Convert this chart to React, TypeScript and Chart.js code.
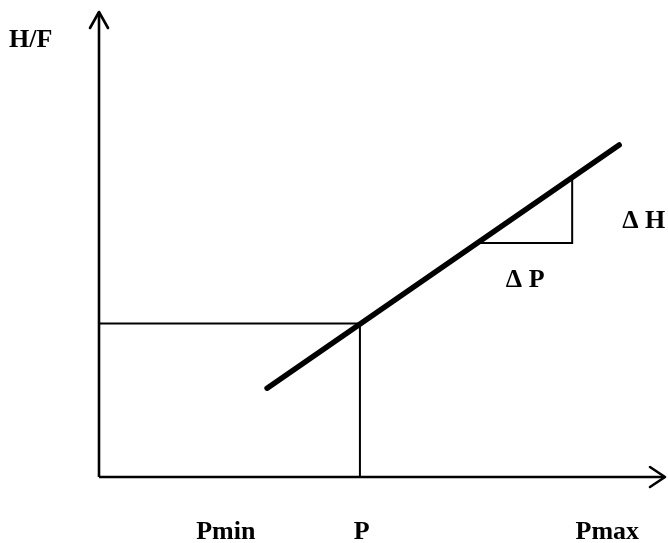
import React, { useEffect, useRef } from "react";
import { Chart, registerables } from "chart.js";

Chart.register(...registerables);

// Axis ranges (abstract units)
const pAxisRange = [0, 10];
const hfAxisRange = [0, 10];

// Characteristic line H/F vs P
const lineP = [2.97, 9.19];
const lineHF = [1.91, 7.14];

// Operating point
const operatingP = 4.61;
const operatingHF = 3.3;

// Slope triangle
const deltaP = [6.7, 8.36];
const deltaH = [5.03, 6.42];

// Tick labels on the P axis
const tickLabels = ["Pmin", "P", "Pmax"];
const tickValues = [2.24, 4.64, 8.98];

const yAxisTitle = "H/F";
const deltaHLabel = "\u0394 H";
const deltaPLabel = "\u0394 P";

const FONT = 'bold 26px "Liberation Serif", "Times New Roman", serif';

const decorations = {
  id: "decorations",
  afterDatasetsDraw(chart: any) {
    const { ctx, scales, chartArea } = chart;
    const xs = scales.x;
    const ys = scales.y;
    const x0 = xs.getPixelForValue(pAxisRange[0]);
    const x1 = xs.getPixelForValue(pAxisRange[1]);
    const y0 = ys.getPixelForValue(hfAxisRange[0]);
    const y1 = ys.getPixelForValue(hfAxisRange[1]);
    ctx.save();
    ctx.strokeStyle = "#000";
    ctx.lineWidth = 2.6;
    ctx.lineCap = "round";
    ctx.lineJoin = "round";
    // x arrow head
    ctx.beginPath();
    ctx.moveTo(x1 - 15, y0 - 10);
    ctx.lineTo(x1, y0);
    ctx.lineTo(x1 - 15, y0 + 10);
    ctx.stroke();
    // y arrow head
    ctx.beginPath();
    ctx.moveTo(x0 - 9, y1 + 16);
    ctx.lineTo(x0, y1);
    ctx.lineTo(x0 + 9, y1 + 16);
    ctx.stroke();

    ctx.fillStyle = "#000";
    ctx.font = FONT;
    ctx.textBaseline = "alphabetic";
    // y axis title
    ctx.textAlign = "left";
    ctx.fillText(yAxisTitle, chartArea.left - 90, chartArea.top + 35);
    // tick labels
    ctx.textAlign = "center";
    tickLabels.forEach((t, i) => {
      ctx.fillText(t, xs.getPixelForValue(tickValues[i]), chartArea.bottom + 62);
    });
    // delta labels
    const tx = xs.getPixelForValue(deltaP[1]);
    const tyMid = (ys.getPixelForValue(deltaH[0]) + ys.getPixelForValue(deltaH[1])) / 2;
    ctx.textAlign = "left";
    ctx.fillText(deltaHLabel, tx + 50, tyMid + 17);
    const pxMid = (xs.getPixelForValue(deltaP[0]) + xs.getPixelForValue(deltaP[1])) / 2;
    ctx.textAlign = "center";
    ctx.fillText(deltaPLabel, pxMid, ys.getPixelForValue(deltaH[0]) + 44);
    ctx.restore();
  },
};

export default function App() {
  const ref = useRef<HTMLCanvasElement | null>(null);
  useEffect(() => {
    if (!ref.current) return;
    const base = {
      borderColor: "#000",
      pointRadius: 0,
      showLine: true,
      fill: false,
      clip: false as any,
      tension: 0,
    };
    const chart = new Chart(ref.current, {
      type: "scatter",
      data: {
        datasets: [
          {
            ...base,
            label: "P axis",
            data: [
              { x: pAxisRange[0], y: hfAxisRange[0] },
              { x: pAxisRange[1], y: hfAxisRange[0] },
            ],
            borderWidth: 2.6,
          },
          {
            ...base,
            label: "H/F axis",
            data: [
              { x: pAxisRange[0], y: hfAxisRange[0] },
              { x: pAxisRange[0], y: hfAxisRange[1] },
            ],
            borderWidth: 2.6,
          },
          {
            ...base,
            label: "operating point",
            data: [
              { x: pAxisRange[0], y: operatingHF },
              { x: operatingP, y: operatingHF },
              { x: operatingP, y: hfAxisRange[0] },
            ],
            borderWidth: 2,
          },
          {
            ...base,
            label: "slope",
            data: [
              { x: deltaP[0], y: deltaH[0] },
              { x: deltaP[1], y: deltaH[0] },
              { x: deltaP[1], y: deltaH[1] },
            ],
            borderWidth: 2,
          },
          {
            ...base,
            label: "characteristic",
            data: lineP.map((p, i) => ({ x: p, y: lineHF[i] })),
            borderWidth: 5.5,
            borderCapStyle: "round",
          },
        ],
      },
      options: {
        animation: false,
        responsive: false,
        devicePixelRatio: 1,
        layout: { padding: { left: 99, right: 3, top: 12, bottom: 66 } },
        plugins: { legend: { display: false }, tooltip: { enabled: false } },
        events: [],
        scales: {
          x: { type: "linear", min: pAxisRange[0], max: pAxisRange[1], display: false },
          y: { type: "linear", min: hfAxisRange[0], max: hfAxisRange[1], display: false },
        },
      },
      plugins: [decorations],
    });
    return () => chart.destroy();
  }, []);
  return (
    <div style={{ position: "fixed", left: 0, top: 0, width: 668, height: 543, background: "#fff" }}>
      <canvas ref={ref} width={668} height={543} style={{ width: 668, height: 543, display: "block" }} />
    </div>
  );
}
